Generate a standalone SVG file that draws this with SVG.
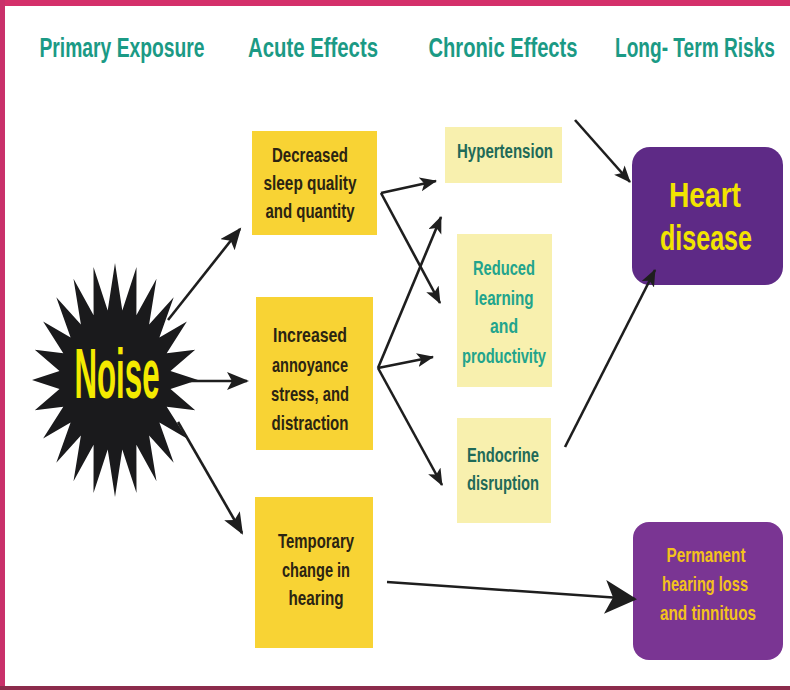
<svg xmlns="http://www.w3.org/2000/svg" width="790" height="690" viewBox="0 0 790 690">
<style>
text{font-family:"Liberation Sans Narrow","Liberation Sans",Arial,sans-serif;font-weight:bold;text-anchor:middle}
.hd{fill:#1b9a85;font-size:27px}
.acute{fill:#f8d334}
.chron{fill:#f8f0ae}
.at{fill:#2b2412;font-size:21px}
.ct{fill:#1f6a58;font-size:20px}
.ct2{fill:#22a48c;font-size:20px}
.ln{stroke:#1e1e1e;stroke-width:2.6;fill:none}
.ah{fill:#1e1e1e}
</style>
<defs>
<marker id="m1" markerUnits="userSpaceOnUse" markerWidth="24" markerHeight="20" refX="20" refY="9" orient="auto">
<path class="ah" d="M0,0 L22,9 L0,18 L5,9 z"/>
</marker>
<marker id="m2" markerUnits="userSpaceOnUse" markerWidth="20" markerHeight="16" refX="16" refY="7" orient="auto">
<path class="ah" d="M0,0 L17,7 L0,14 L4,7 z"/>
</marker>
<marker id="m3" markerUnits="userSpaceOnUse" markerWidth="34" markerHeight="36" refX="30" refY="17" orient="auto">
<path class="ah" d="M0,0 L32,17 L0,34 L8,17 z"/>
</marker>
</defs>
<rect x="0" y="0" width="790" height="690" fill="#ffffff"/>
<rect x="0" y="0" width="790" height="6" fill="#d4306a"/>
<rect x="0" y="0" width="5" height="690" fill="#c9306a"/>
<rect x="0" y="686" width="790" height="4" fill="#8c2b4c"/>
<g id="headings">
<text class="hd" x="122" y="57" textLength="165" lengthAdjust="spacingAndGlyphs">Primary Exposure</text>
<text class="hd" x="313" y="57" textLength="130" lengthAdjust="spacingAndGlyphs">Acute Effects</text>
<text class="hd" x="503" y="57" textLength="149" lengthAdjust="spacingAndGlyphs">Chronic Effects</text>
<text class="hd" x="695" y="57" textLength="160" lengthAdjust="spacingAndGlyphs">Long- Term Risks</text>
</g>
<g id="noise">
<polygon fill="#1a1a1c" points="198,380 170.5,370.9 195.2,349.7 166.7,353.2 186.9,321.5 159.4,337.4 173.7,297.3 149.1,324.5 156.5,278.7 136.4,315.3 136.5,267 122.3,310.6 115,263 107.7,310.6 93.5,267 93.6,315.3 73.5,278.7 80.9,324.5 56.3,297.3 70.6,337.4 43.1,321.5 63.3,353.2 34.8,349.7 59.5,370.9 32,380 59.5,389.1 34.8,410.3 63.3,406.8 43.1,438.5 70.6,422.6 56.3,462.7 80.9,435.5 73.5,481.3 93.6,444.7 93.5,493 107.7,449.4 115,497 122.3,449.4 136.5,493 136.4,444.7 156.5,481.3 149.1,435.5 173.7,462.7 159.4,422.6 186.9,438.5 166.7,406.8 195.2,410.3 170.5,389.1"/>
<text x="117" y="398" fill="#f4ea00" font-size="70" textLength="85" lengthAdjust="spacingAndGlyphs">Noise</text>
</g>
<g id="acute1">
<rect class="acute" x="252" y="131" width="125" height="104"/>
<text class="at" x="310" y="162" textLength="76" lengthAdjust="spacingAndGlyphs">Decreased</text>
<text class="at" x="310" y="190" textLength="93" lengthAdjust="spacingAndGlyphs">sleep quality</text>
<text class="at" x="310" y="218" textLength="89" lengthAdjust="spacingAndGlyphs">and quantity</text>
</g>
<g id="acute2">
<rect class="acute" x="256" y="297" width="117" height="153"/>
<text class="at" x="310" y="342" textLength="74" lengthAdjust="spacingAndGlyphs">Increased</text>
<text class="at" x="310" y="372" textLength="76" lengthAdjust="spacingAndGlyphs">annoyance</text>
<text class="at" x="310" y="401" textLength="78" lengthAdjust="spacingAndGlyphs">stress, and</text>
<text class="at" x="310" y="430" textLength="77" lengthAdjust="spacingAndGlyphs">distraction</text>
</g>
<g id="acute3">
<rect class="acute" x="255" y="497" width="118" height="151"/>
<text class="at" x="316" y="548" textLength="76" lengthAdjust="spacingAndGlyphs">Temporary</text>
<text class="at" x="316" y="577" textLength="68" lengthAdjust="spacingAndGlyphs">change in</text>
<text class="at" x="316" y="605" textLength="55" lengthAdjust="spacingAndGlyphs">hearing</text>
</g>
<g id="hypertension">
<rect class="chron" x="445" y="127" width="117" height="56"/>
<text class="ct" x="505" y="158" textLength="96" lengthAdjust="spacingAndGlyphs">Hypertension</text>
</g>
<g id="reduced">
<rect class="chron" x="457" y="234" width="95" height="153"/>
<text class="ct2" x="504" y="275" textLength="62" lengthAdjust="spacingAndGlyphs">Reduced</text>
<text class="ct2" x="504" y="305" textLength="59" lengthAdjust="spacingAndGlyphs">learning</text>
<text class="ct2" x="504" y="333" textLength="28" lengthAdjust="spacingAndGlyphs">and</text>
<text class="ct2" x="504" y="363" textLength="84" lengthAdjust="spacingAndGlyphs">productivity</text>
</g>
<g id="endocrine">
<rect class="chron" x="457" y="418" width="94" height="105"/>
<text class="ct" x="503" y="462" textLength="72" lengthAdjust="spacingAndGlyphs">Endocrine</text>
<text class="ct" x="503" y="490" textLength="72" lengthAdjust="spacingAndGlyphs">disruption</text>
</g>
<g id="heart">
<rect x="632" y="147" width="151" height="138" rx="18" fill="#5e2a86"/>
<text x="705" y="207" fill="#f2e400" font-size="35" textLength="72" lengthAdjust="spacingAndGlyphs">Heart</text>
<text x="706" y="250" fill="#f2e400" font-size="35" textLength="92" lengthAdjust="spacingAndGlyphs">disease</text>
</g>
<g id="permanent">
<rect x="633" y="522" width="150" height="138" rx="16" fill="#7a3593"/>
<text x="706" y="562" fill="#f3c21c" font-size="21" textLength="79" lengthAdjust="spacingAndGlyphs">Permanent</text>
<text x="705" y="591" fill="#f3c21c" font-size="21" textLength="86" lengthAdjust="spacingAndGlyphs">hearing loss</text>
<text x="708" y="620" fill="#f3c21c" font-size="21" textLength="96" lengthAdjust="spacingAndGlyphs">and tinnituos</text>
</g>
<g id="connectors">
<line class="ln" x1="168" y1="320" x2="240" y2="229" marker-end="url(#m1)" stroke-width="3"/>
<line class="ln" x1="190" y1="381" x2="247" y2="381" marker-end="url(#m1)" stroke-width="3"/>
<line class="ln" x1="178" y1="422" x2="242" y2="533" marker-end="url(#m1)" stroke-width="3"/>
<line class="ln" x1="381" y1="193" x2="436" y2="181" marker-end="url(#m2)"/>
<line class="ln" x1="381" y1="193" x2="440" y2="303" marker-end="url(#m2)"/>
<line class="ln" x1="378" y1="368" x2="441" y2="217" marker-end="url(#m2)"/>
<line class="ln" x1="378" y1="368" x2="433" y2="357" marker-end="url(#m2)"/>
<line class="ln" x1="378" y1="368" x2="442" y2="485" marker-end="url(#m2)"/>
<line class="ln" x1="575" y1="120" x2="630" y2="182" marker-end="url(#m2)" stroke-width="3"/>
<line class="ln" x1="565" y1="447" x2="655" y2="270" marker-end="url(#m2)" stroke-width="3"/>
<line class="ln" x1="387" y1="582" x2="635" y2="599" marker-end="url(#m3)" stroke-width="6"/>
</g>
</svg>
